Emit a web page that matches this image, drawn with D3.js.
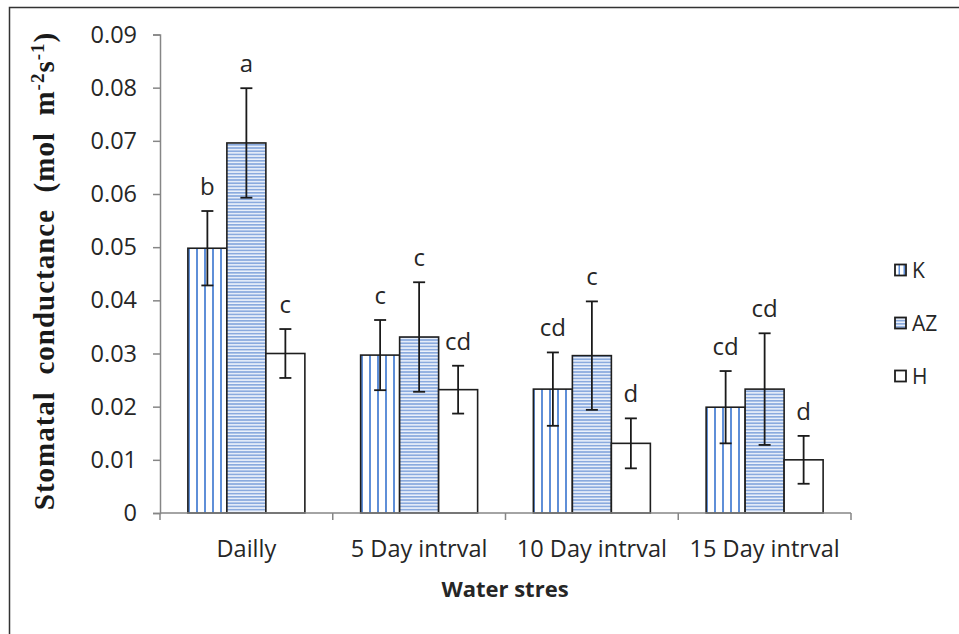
<!DOCTYPE html>
<html><head><meta charset="utf-8">
<script src="https://cdn.jsdelivr.net/npm/d3@7"></script>
<style>body{margin:0;background:#fff}svg{display:block}</style>
</head><body>
<script>
const categories = ["Dailly", "5 Day intrval", "10 Day intrval", "15 Day intrval"];
const series = ["K", "AZ", "H"];
const valuesK  = [0.0498, 0.0297, 0.0233, 0.0199];
const valuesAZ = [0.0696, 0.0331, 0.0296, 0.0233];
const valuesH  = [0.0300, 0.0232, 0.0131, 0.0100];
const errK  = [0.0070, 0.0066, 0.0069, 0.0068];
const errAZ = [0.0103, 0.0103, 0.0102, 0.0105];
const errH  = [0.0046, 0.0045, 0.0047, 0.0045];
const lettersK  = ["b", "c", "cd", "cd"];
const lettersAZ = ["a", "c", "c", "cd"];
const lettersH  = ["c", "cd", "d", "d"];
const yTicks = [0, 0.01, 0.02, 0.03, 0.04, 0.05, 0.06, 0.07, 0.08, 0.09];

const W = 959, H = 634;
const svg = d3.select("body").append("svg").attr("width", W).attr("height", H);
const defs = svg.append("defs");

// frame
svg.append("rect").attr("x", 9.5).attr("y", 7.5).attr("width", 980).attr("height", 660)
  .attr("fill", "none").attr("stroke", "#333").attr("stroke-width", 1.5);

const x = d3.scaleBand().domain(categories).range([160, 851]).paddingInner(0).paddingOuter(0);
const xs = d3.scaleBand().domain(series).range([0, x.bandwidth()]).paddingInner(0).paddingOuter(0.715);
const y = d3.scaleLinear().domain([0, 0.09]).range([513, 34.5]);

const data = [];
categories.forEach((c, i) => {
  data.push({cat: c, s: "K", v: valuesK[i], e: errK[i], l: lettersK[i], i});
  data.push({cat: c, s: "AZ", v: valuesAZ[i], e: errAZ[i], l: lettersAZ[i], i});
  data.push({cat: c, s: "H", v: valuesH[i], e: errH[i], l: lettersH[i], i});
});

const gray = "#868686";
// axes
const yAxis = svg.append("g").attr("transform", "translate(160,0)")
  .call(d3.axisLeft(y).tickValues(yTicks).tickSize(7).tickPadding(16)
    .tickFormat(d => d === 0 ? "0" : d3.format(".2f")(d)));
yAxis.select(".domain").attr("stroke", gray).attr("stroke-width", 1.5);
yAxis.selectAll(".tick line").attr("stroke", gray).attr("stroke-width", 1.5);
yAxis.selectAll("text").attr("font-family", "Open Sans").attr("font-size", 23.5).attr("fill", "#262626");

// bars
function patId(d) { return "p" + d.s + d.i; }
data.forEach(d => {
  const bx = Math.round(x(d.cat) + xs(d.s));
  if (d.s === "K") {
    const p = defs.append("pattern").attr("id", patId(d)).attr("patternUnits", "userSpaceOnUse")
      .attr("x", bx + 2).attr("y", 0).attr("width", 8).attr("height", 10);
    p.append("rect").attr("width", 8).attr("height", 10).attr("fill", "#fff");
    p.append("rect").attr("x", 6).attr("width", 2).attr("height", 10).attr("fill", "#5f8fd8");
  } else if (d.s === "AZ") {
    const p = defs.append("pattern").attr("id", patId(d)).attr("patternUnits", "userSpaceOnUse")
      .attr("x", 0).attr("y", 0).attr("width", 10).attr("height", 3.2);
    p.append("rect").attr("width", 10).attr("height", 3.2).attr("fill", "#edf2fb");
    p.append("rect").attr("y", 0).attr("width", 10).attr("height", 1.7).attr("fill", "#8aaade");
  }
});

svg.append("g").selectAll("rect").data(data).join("rect")
  .attr("x", d => x(d.cat) + xs(d.s))
  .attr("y", d => y(d.v))
  .attr("width", xs.bandwidth())
  .attr("height", d => y(0) - y(d.v))
  .attr("fill", d => d.s === "H" ? "#fff" : `url(#${patId(d)})`)
  .attr("stroke", "#1e1e1e").attr("stroke-width", 1.6);

// x axis
const xAxis = svg.append("g").attr("transform", "translate(0,513)");
xAxis.append("line").attr("x1", 160).attr("x2", 851).attr("stroke", gray).attr("stroke-width", 1.5);
const bounds = categories.map(c => x(c)).concat([x.range()[1]]);
xAxis.selectAll("line.t").data(bounds).join("line").attr("class", "t")
  .attr("x1", d => d).attr("x2", d => d).attr("y1", 0).attr("y2", 7)
  .attr("stroke", gray).attr("stroke-width", 1.5);
xAxis.selectAll("text").data(categories).join("text")
  .attr("x", d => x(d) + x.bandwidth() / 2).attr("y", 44)
  .attr("text-anchor", "middle").attr("font-family", "Open Sans").attr("font-size", 23.5).attr("fill", "#262626")
  .text(d => d);

// error bars
const eg = svg.append("g").attr("stroke", "#1a1a1a").attr("stroke-width", 1.8);
data.forEach(d => {
  const cx = x(d.cat) + xs(d.s) + xs.bandwidth() / 2;
  eg.append("line").attr("x1", cx).attr("x2", cx).attr("y1", y(d.v + d.e)).attr("y2", y(d.v - d.e));
  eg.append("line").attr("x1", cx - 6).attr("x2", cx + 6).attr("y1", y(d.v + d.e)).attr("y2", y(d.v + d.e));
  eg.append("line").attr("x1", cx - 6).attr("x2", cx + 6).attr("y1", y(d.v - d.e)).attr("y2", y(d.v - d.e));
});

// letters
svg.append("g").selectAll("text").data(data).join("text")
  .attr("x", d => x(d.cat) + xs(d.s) + xs.bandwidth() / 2)
  .attr("y", d => y(d.v + d.e) - 16)
  .attr("text-anchor", "middle").attr("font-family", "Open Sans").attr("font-size", 24).attr("fill", "#262626")
  .text(d => d.l);

// axis titles
svg.append("text").attr("x", 505).attr("y", 597).attr("text-anchor", "middle")
  .attr("font-family", "Open Sans").attr("font-weight", "bold").attr("font-size", 22).attr("fill", "#262626")
  .text("Water stres");

const yt = svg.append("text").attr("transform", "translate(54,271) rotate(-90)").attr("text-anchor", "middle")
  .attr("font-family", "Liberation Serif").attr("font-weight", "bold").attr("font-size", 29).attr("fill", "#1a1a1a")
  .attr("letter-spacing", 1).attr("xml:space", "preserve");
yt.append("tspan").text("Stomatal  conductance  (mol  m");
yt.append("tspan").attr("dy", -10).attr("font-size", 19).text("-2");
yt.append("tspan").attr("dy", 10).text("s");
yt.append("tspan").attr("dy", -10).attr("font-size", 19).text("-1");
yt.append("tspan").attr("dy", 10).text(")");

// legend
const leg = svg.append("g");
const legY = [270, 323, 376];
series.forEach((s, i) => {
  const g = leg.append("g").attr("transform", `translate(895,${legY[i]})`);
  let fill = "#fff";
  if (s === "K") {
    const p = defs.append("pattern").attr("id", "legK").attr("patternUnits", "userSpaceOnUse")
      .attr("x", 895).attr("y", 0).attr("width", 5).attr("height", 10);
    p.append("rect").attr("width", 5).attr("height", 10).attr("fill", "#fff");
    p.append("rect").attr("x", 3.5).attr("width", 1.5).attr("height", 10).attr("fill", "#5f8fd8");
    fill = "url(#legK)";
  } else if (s === "AZ") {
    fill = "url(#pAZ0)";
  }
  g.append("rect").attr("x", 0).attr("y", -5.5).attr("width", 11).attr("height", 11)
    .attr("fill", fill).attr("stroke", "#1e1e1e").attr("stroke-width", 1.8);
  g.append("text").attr("x", 17).attr("y", 8).attr("font-family", "Open Sans").attr("font-size", 21)
    .attr("fill", "#262626").text(s);
});
</script>
</body></html>
